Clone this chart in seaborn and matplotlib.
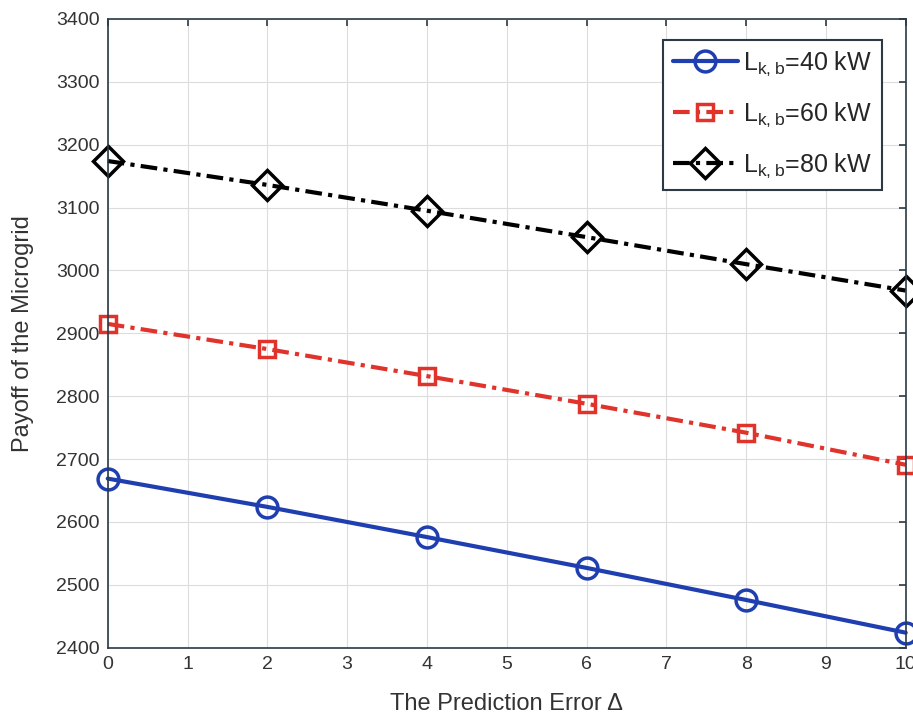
import pandas as pd
import seaborn as sns
import matplotlib.pyplot as plt
import numpy as np

errors = [0, 2, 4, 6, 8, 10]
payoff_40 = [2669, 2624, 2576, 2527, 2476, 2424]
payoff_60 = [2915, 2875, 2832, 2788, 2742, 2691]
payoff_80 = [3174, 3136, 3095, 3053, 3010, 2968]
labels = [r'$\mathregular{L_{k,b}}$=40 kW', r'$\mathregular{L_{k,b}}$=60 kW', r'$\mathregular{L_{k,b}}$=80 kW']

sns.set_style('whitegrid')
plt.rcParams['font.family'] = ['Liberation Sans', 'DejaVu Sans']
plt.rcParams['mathtext.fontset'] = 'custom'
plt.rcParams['mathtext.rm'] = 'Liberation Sans'

fig = plt.figure(figsize=(9.13, 7.27), dpi=100)
ax = fig.add_axes([0.118, 0.109, 0.874, 0.865])

styles = [
    (payoff_40, '#1f3fb0', 'o', '-'),
    (payoff_60, '#e0332c', 's', (0, (4, 1.5, 1, 1.5))),
    (payoff_80, '#000000', 'D', (0, (4, 1.5, 1, 1.5))),
]
for (vals, col, mk, ls), lab in zip(styles, labels):
    df = pd.DataFrame({'x': errors, 'y': vals})
    sns.lineplot(data=df, x='x', y='y', ax=ax, color=col, marker=mk, linestyle=ls,
                 linewidth=3, markersize=15 if mk != 's' else 12, markeredgewidth=2.5,
                 markerfacecolor='none', markeredgecolor=col, label=lab, clip_on=False)

ax.set_xlim(0, 10)
ax.set_ylim(2400, 3400)
ax.set_xticks(np.arange(0, 11, 1))
ax.set_yticks(np.arange(2400, 3401, 100))
ax.grid(True, color='#dcdcdc', linewidth=0.8)
for s in ax.spines.values():
    s.set_color('#2b3a44')
    s.set_linewidth(1.2)
ax.tick_params(direction='in', length=5, top=True, right=True, colors='#2b3a44',
               labelsize=14, labelcolor='#333333', width=1.2, pad=6)
ax.set_xlabel('The Prediction Error Δ', fontsize=17, color='#333333', labelpad=14)
ax.set_ylabel('Payoff of the Microgrid', fontsize=17, color='#333333', labelpad=16)

leg = ax.legend(loc='upper right', fontsize=18, frameon=True, fancybox=False,
                borderpad=0.4, handlelength=2.6, handletextpad=0.2, labelspacing=0.9,
                borderaxespad=0, bbox_to_anchor=(0.97, 0.967))
leg.get_frame().set_edgecolor('#2b3a44')
leg.get_frame().set_linewidth(1.5)
leg.get_frame().set_alpha(1)

fig.savefig('out.png', dpi=100)
